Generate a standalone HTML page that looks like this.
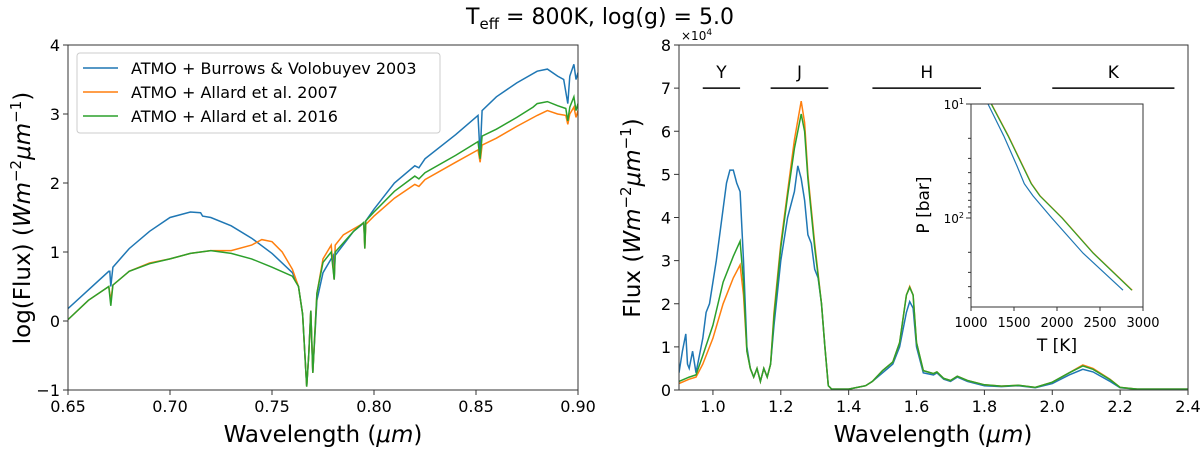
<!DOCTYPE html>
<html><head><meta charset="utf-8"><style>
html,body{margin:0;padding:0;background:#fff;}
svg{display:block;font-family:"DejaVu Sans","Liberation Sans",sans-serif;}
</style></head><body>
<svg id="fig" width="1200" height="449" viewBox="0 0 1200 449" xmlns="http://www.w3.org/2000/svg">
<text x="600" y="24" text-anchor="middle" font-size="22">T<tspan font-size="15" dy="5">eff</tspan><tspan dy="-5"> = 800K, log(g) = 5.0</tspan></text>
<g id="left"></g>
<g id="right"></g>
<g id="inset"></g>
</svg>
<script>
// ---- Left panel data: wavelength (um) and log flux ----
const leftBlueX=[0.65,0.66,0.67,0.6705,0.671,0.672,0.68,0.69,0.70,0.71,0.715,0.716,0.72,0.73,0.74,0.75,0.76,0.763,0.765,0.767,0.768,0.769,0.770,0.772,0.775,0.78,0.7805,0.781,0.79,0.795,0.7955,0.796,0.80,0.81,0.82,0.822,0.825,0.84,0.851,0.852,0.853,0.86,0.87,0.88,0.885,0.89,0.893,0.895,0.896,0.898,0.899,0.90];
const leftBlueY=[0.18,0.45,0.72,0.72,0.5,0.78,1.05,1.3,1.5,1.58,1.57,1.52,1.5,1.38,1.2,0.98,0.7,0.5,0.1,-0.95,-0.5,0.15,-0.75,0.3,0.7,0.95,0.6,0.95,1.3,1.42,1.1,1.45,1.62,2.0,2.25,2.22,2.35,2.7,2.98,2.4,3.05,3.25,3.45,3.62,3.65,3.55,3.5,3.15,3.55,3.72,3.5,3.6];
const leftOrangeX=[0.65,0.66,0.67,0.671,0.672,0.68,0.69,0.70,0.71,0.72,0.73,0.74,0.745,0.75,0.755,0.76,0.763,0.765,0.767,0.768,0.769,0.770,0.772,0.775,0.779,0.7805,0.781,0.785,0.795,0.7955,0.796,0.80,0.81,0.82,0.822,0.825,0.84,0.851,0.852,0.853,0.86,0.87,0.88,0.885,0.89,0.894,0.895,0.896,0.898,0.899,0.90];
const leftOrangeY=[0.02,0.3,0.5,0.3,0.52,0.72,0.84,0.9,0.98,1.02,1.02,1.1,1.18,1.15,1.0,0.75,0.5,0.1,-0.95,-0.5,0.15,-0.75,0.4,0.9,1.1,0.6,1.1,1.25,1.42,1.05,1.4,1.52,1.78,1.98,1.95,2.05,2.3,2.48,2.3,2.55,2.65,2.82,2.98,3.05,3.0,2.98,2.85,3.0,3.1,2.95,3.05];
const leftGreenX=[0.65,0.66,0.67,0.671,0.672,0.68,0.69,0.70,0.71,0.72,0.73,0.74,0.75,0.76,0.763,0.765,0.767,0.768,0.769,0.770,0.772,0.775,0.779,0.7805,0.781,0.79,0.795,0.7955,0.796,0.80,0.81,0.82,0.822,0.825,0.84,0.851,0.852,0.853,0.86,0.87,0.878,0.88,0.885,0.89,0.894,0.895,0.896,0.898,0.899,0.90];
const leftGreenY=[0.02,0.3,0.5,0.22,0.52,0.72,0.83,0.9,0.98,1.02,0.98,0.9,0.78,0.65,0.5,0.1,-0.95,-0.5,0.15,-0.75,0.4,0.85,1.0,0.6,1.0,1.3,1.43,1.05,1.45,1.58,1.88,2.1,2.06,2.15,2.4,2.6,2.35,2.68,2.78,2.95,3.1,3.15,3.18,3.12,3.08,2.9,3.1,3.25,3.05,3.15];
const leftXTicks=[0.65,0.70,0.75,0.80,0.85,0.90];
const leftXTickLabels=["0.65","0.70","0.75","0.80","0.85","0.90"];
const leftYTicks=[-1,0,1,2,3,4];
const leftYTickLabels=["\u22121","0","1","2","3","4"];
const legendLabels=["ATMO + Burrows & Volobuyev 2003","ATMO + Allard et al. 2007","ATMO + Allard et al. 2016"];

// ---- Right panel data: wavelength (um), flux in 1e4 units ----
const rightBlueX=[0.90,0.91,0.92,0.925,0.93,0.94,0.95,0.96,0.97,0.98,0.99,1.00,1.01,1.02,1.03,1.04,1.05,1.06,1.07,1.08,1.09,1.10,1.11,1.12,1.13,1.14,1.15,1.16,1.17,1.18,1.20,1.22,1.24,1.25,1.26,1.27,1.28,1.29,1.30,1.31,1.32,1.33,1.34,1.35,1.40,1.45,1.47,1.50,1.53,1.55,1.57,1.58,1.59,1.60,1.62,1.65,1.66,1.68,1.70,1.72,1.75,1.80,1.85,1.90,1.95,2.00,2.05,2.09,2.12,2.17,2.20,2.25,2.40];
const rightBlueY=[0.4,0.9,1.3,0.6,0.5,0.9,0.4,0.8,1.2,1.8,2.0,2.5,3.0,3.6,4.2,4.8,5.1,5.1,4.8,4.6,3.0,1.0,0.5,0.3,0.5,0.2,0.5,0.3,0.6,1.5,3.0,4.0,4.6,5.2,4.9,4.4,3.6,3.4,2.8,2.6,2.0,1.0,0.1,0.02,0.02,0.1,0.2,0.4,0.6,1.0,1.8,2.05,1.9,1.0,0.4,0.35,0.4,0.25,0.2,0.3,0.2,0.1,0.08,0.1,0.05,0.15,0.35,0.48,0.42,0.2,0.05,0.02,0.02];
const rightOrangeX=[0.90,0.93,0.95,0.97,1.00,1.03,1.06,1.08,1.09,1.10,1.11,1.12,1.13,1.14,1.15,1.16,1.17,1.18,1.20,1.22,1.24,1.26,1.27,1.28,1.30,1.32,1.33,1.34,1.35,1.40,1.45,1.47,1.50,1.53,1.55,1.57,1.58,1.59,1.60,1.62,1.65,1.66,1.68,1.70,1.72,1.75,1.80,1.85,1.90,1.95,2.00,2.05,2.09,2.12,2.17,2.20,2.25,2.40];
const rightOrangeY=[0.15,0.25,0.3,0.6,1.2,2.0,2.6,2.9,2.2,0.9,0.5,0.3,0.5,0.2,0.5,0.3,0.6,1.8,3.4,4.6,5.8,6.7,6.2,5.0,3.4,2.0,1.0,0.1,0.02,0.02,0.1,0.2,0.45,0.65,1.1,2.2,2.4,2.2,1.1,0.45,0.38,0.42,0.27,0.22,0.32,0.22,0.12,0.09,0.11,0.06,0.18,0.4,0.58,0.5,0.25,0.06,0.02,0.02];
const rightGreenX=[0.90,0.93,0.95,0.97,1.00,1.03,1.06,1.08,1.09,1.10,1.11,1.12,1.13,1.14,1.15,1.16,1.17,1.18,1.20,1.22,1.24,1.26,1.27,1.28,1.30,1.32,1.33,1.34,1.35,1.40,1.45,1.47,1.50,1.53,1.55,1.57,1.58,1.59,1.60,1.62,1.65,1.66,1.68,1.70,1.72,1.75,1.80,1.85,1.90,1.95,2.00,2.05,2.09,2.12,2.17,2.20,2.25,2.40];
const rightGreenY=[0.2,0.3,0.35,0.8,1.5,2.5,3.1,3.45,2.5,0.9,0.5,0.3,0.5,0.2,0.5,0.3,0.6,1.7,3.3,4.5,5.6,6.4,6.0,4.9,3.3,2.0,1.0,0.1,0.02,0.02,0.1,0.2,0.45,0.65,1.1,2.2,2.38,2.2,1.1,0.45,0.38,0.42,0.27,0.22,0.32,0.22,0.12,0.09,0.11,0.06,0.18,0.4,0.56,0.48,0.24,0.06,0.02,0.02];
const rightXTicks=[1.0,1.2,1.4,1.6,1.8,2.0,2.2,2.4];
const rightXTickLabels=["1.0","1.2","1.4","1.6","1.8","2.0","2.2","2.4"];
const rightYTicks=[0,1,2,3,4,5,6,7,8];
const rightYTickLabels=["0","1","2","3","4","5","6","7","8"];
const bandNames=["Y","J","H","K"];
const bandStart=[0.97,1.17,1.47,2.00];
const bandEnd=[1.08,1.34,1.79,2.36];

// ---- Inset data: temperature (K) and pressure (bar) ----
const insetBlueT=[1198,1380,1535,1620,1721,1940,2302,2767];
const insetBlueP=[10,19,35,50,64,100,203,430];
const insetGreenT=[1235,1430,1600,1700,1800,2058,2420,2870];
const insetGreenP=[10,19,35,50,64,100,203,430];
const insetOrangeT=[1240,1435,1605,1705,1805,2063,2425,2875];
const insetOrangeP=[10,19,35,50,64,100,203,430];
const insetXTicks=[1000,1500,2000,2500,3000];

const NS="http://www.w3.org/2000/svg";
const BLUE="#1f77b4",ORANGE="#ff7f0e",GREEN="#2ca02c";
function mk(parent,tag,attrs,text){const e=document.createElementNS(NS,tag);for(const k in attrs)e.setAttribute(k,attrs[k]);if(text!==undefined)e.textContent=text;parent.appendChild(e);return e;}
function lin(d0,d1,r0,r1){return v=>r0+(v-d0)/(d1-d0)*(r1-r0);}
function pathD(xs,ys,sx,sy){return xs.map((x,i)=>(i?"L":"M")+sx(x).toFixed(1)+","+sy(ys[i]).toFixed(1)).join("");}

// Left panel
const L=document.getElementById("left");
const lx=lin(0.65,0.90,68,578), ly=lin(-1,4,390,45);
let cp=mk(L,"clipPath",{id:"cl"});mk(cp,"rect",{x:68,y:45,width:510,height:345});
[[leftBlueX,leftBlueY,BLUE,"series-burrows"],[leftOrangeX,leftOrangeY,ORANGE,"series-allard-2007"],[leftGreenX,leftGreenY,GREEN,"series-allard-2016"]].forEach(s=>{
 const p=mk(L,"path",{d:pathD(s[0],s[1],lx,ly),fill:"none",stroke:s[2],"stroke-width":1.5,"clip-path":"url(#cl)"});
 
 
});
let fr=mk(L,"rect",{x:68,y:45,width:510,height:345,fill:"none",stroke:"#333","stroke-width":1});


leftXTicks.forEach((t,i)=>{const x=lx(t);mk(L,"line",{x1:x,x2:x,y1:390,y2:395,stroke:"#333"});
 const tx=mk(L,"text",{x:x,y:412,"text-anchor":"middle","font-size":16},leftXTickLabels[i]);
 
 });
leftYTicks.forEach((t,i)=>{const y=ly(t);mk(L,"line",{x1:63,x2:68,y1:y,y2:y,stroke:"#333"});
 const tx=mk(L,"text",{x:60,y:y+6,"text-anchor":"end","font-size":16},leftYTickLabels[i]);
 
 });
let xl=mk(L,"text",{x:323,y:442,"text-anchor":"middle","font-size":23},"Wavelength (");
mk(xl,"tspan",{"font-style":"italic"},"\u03bcm");mk(xl,"tspan",{},")");


let yl=mk(L,"text",{x:0,y:0,"text-anchor":"middle","font-size":23,transform:"translate(30,218) rotate(-90)"},"log(Flux) (");
mk(yl,"tspan",{"font-style":"italic"},"Wm");mk(yl,"tspan",{"font-size":15,dy:-9},"\u22122");mk(yl,"tspan",{"font-style":"italic",dy:9},"\u03bcm");mk(yl,"tspan",{"font-size":15,dy:-9},"\u22121");mk(yl,"tspan",{dy:9},")");


// legend
let lg=mk(L,"g",{});


mk(lg,"rect",{x:77,y:53,width:363,height:80,rx:3,fill:"#fff",stroke:"#ccc"});
[BLUE,ORANGE,GREEN].forEach((c,i)=>{const y=68+i*24;
 const e=mk(lg,"g",{});
 
 
 mk(e,"line",{x1:83,x2:118,y1:y,y2:y,stroke:c,"stroke-width":1.5});
 mk(e,"text",{x:131,y:y+6,"font-size":16},legendLabels[i]);});

// Right panel
const R=document.getElementById("right");
const rx=lin(0.9,2.4,679,1188), ry=lin(0,8,390,45);
cp=mk(R,"clipPath",{id:"cr"});mk(cp,"rect",{x:679,y:45,width:509,height:345});
[[rightBlueX,rightBlueY,BLUE,"flux-burrows"],[rightOrangeX,rightOrangeY,ORANGE,"flux-allard-2007"],[rightGreenX,rightGreenY,GREEN,"flux-allard-2016"]].forEach(s=>{
 const p=mk(R,"path",{d:pathD(s[0],s[1],rx,ry),fill:"none",stroke:s[2],"stroke-width":1.5,"clip-path":"url(#cr)"});
 
 
});
fr=mk(R,"rect",{x:679,y:45,width:509,height:345,fill:"none",stroke:"#333"});


rightXTicks.forEach((t,i)=>{const x=rx(t);mk(R,"line",{x1:x,x2:x,y1:390,y2:395,stroke:"#333"});
 const tx=mk(R,"text",{x:x,y:412,"text-anchor":"middle","font-size":16},rightXTickLabels[i]);
 
 });
rightYTicks.forEach((t,i)=>{const y=ry(t);mk(R,"line",{x1:674,x2:679,y1:y,y2:y,stroke:"#333"});
 const tx=mk(R,"text",{x:671,y:y+6,"text-anchor":"end","font-size":16},rightYTickLabels[i]);
 
 });
let off=mk(R,"text",{x:681,y:40,"font-size":12},"\u00d710");mk(off,"tspan",{"font-size":9,dy:-5},"4");


xl=mk(R,"text",{x:933,y:442,"text-anchor":"middle","font-size":23},"Wavelength (");
mk(xl,"tspan",{"font-style":"italic"},"\u03bcm");mk(xl,"tspan",{},")");


yl=mk(R,"text",{x:0,y:0,"text-anchor":"middle","font-size":23,transform:"translate(640,218) rotate(-90)"},"Flux (");
mk(yl,"tspan",{"font-style":"italic"},"Wm");mk(yl,"tspan",{"font-size":15,dy:-9},"\u22122");mk(yl,"tspan",{"font-style":"italic",dy:9},"\u03bcm");mk(yl,"tspan",{"font-size":15,dy:-9},"\u22121");mk(yl,"tspan",{dy:9},")");


bandNames.forEach((n,i)=>{const x0=rx(bandStart[i]),x1=rx(bandEnd[i]);
 const g=mk(R,"g",{});
 
 
 mk(g,"line",{x1:x0,x2:x1,y1:ry(7),y2:ry(7),stroke:"#000","stroke-width":1.5});
 mk(g,"text",{x:(x0+x1)/2,y:78,"text-anchor":"middle","font-size":17},n);});

// Inset
const I=document.getElementById("inset");
const ix=lin(1000,3000,971,1143);
const iy=p=>lin(1,2,104,218)(Math.log10(p));
mk(I,"rect",{x:971,y:104,width:172,height:203,fill:"#fff"});
cp=mk(I,"clipPath",{id:"ci"});mk(cp,"rect",{x:971,y:104,width:172,height:203});
[[insetBlueT,insetBlueP,BLUE,"pt-burrows"],[insetOrangeT,insetOrangeP,ORANGE,"pt-allard-2007"],[insetGreenT,insetGreenP,GREEN,"pt-allard-2016"]].forEach(s=>{
 const p=mk(I,"path",{d:pathD(s[0],s[1],ix,iy),fill:"none",stroke:s[2],"stroke-width":1.2,"clip-path":"url(#ci)"});
 
 
});
fr=mk(I,"rect",{x:971,y:104,width:172,height:203,fill:"none",stroke:"#333"});


insetXTicks.forEach(t=>{const x=ix(t);mk(I,"line",{x1:x,x2:x,y1:307,y2:311,stroke:"#333"});
 const tx=mk(I,"text",{x:x,y:327,"text-anchor":"middle","font-size":13},String(t));
 
 });
[10,100].forEach((p,i)=>{const y=iy(p);mk(I,"line",{x1:966,x2:971,y1:y,y2:y,stroke:"#333"});
 const tx=mk(I,"text",{x:964,y:y+5,"text-anchor":"end","font-size":12},"10");mk(tx,"tspan",{"font-size":8,dy:-5},String(i+1));
 
 });
[20,30,40,50,60,70,80,90,200,300,400,500].forEach(p=>{const y=iy(p);if(y<=307)mk(I,"line",{x1:968,x2:971,y1:y,y2:y,stroke:"#333"});});
let it=mk(I,"text",{x:1057,y:351,"text-anchor":"middle","font-size":17},"T [K]");


it=mk(I,"text",{x:0,y:0,"text-anchor":"middle","font-size":17,transform:"translate(929,205) rotate(-90)"},"P [bar]");


</script>
</body></html>
